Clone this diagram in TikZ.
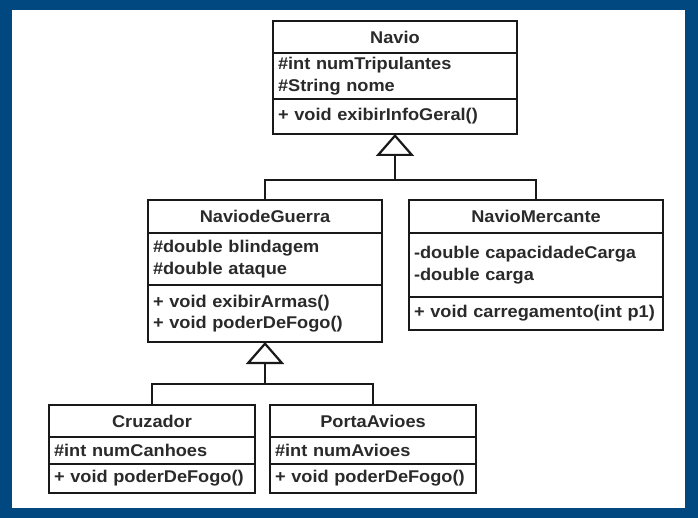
\documentclass[tikz,border=0pt]{standalone}
\usepackage{fontspec}
\setmainfont{Liberation Sans}[FakeStretch=1.07]
\usetikzlibrary{positioning,arrows.meta}
\definecolor{moldura}{RGB}{2,72,128}
\definecolor{tinta}{RGB}{42,42,42}

\begin{document}
\begin{tikzpicture}[x=1pt, y=-1pt,
    % Estilos das classes
    classe/.style={
        draw=black!90, line width=2.2pt, inner xsep=5pt, inner ysep=2pt,
        outer sep=0pt, text width=#1, text=tinta,
        font=\fontsize{17}{21.5}\selectfont\bfseries
    },
    titulo/.style={classe=#1, align=center},
    campos/.style={classe=#1, align=left},
    heranca/.style={draw=black!90, line width=2.2pt},
    ponta/.style={-{Triangle[open, length=22pt, width=38pt]}}
]

% =============================================
% MOLDURA
% =============================================
\fill[moldura] (0,0) rectangle (698,518);
\fill[white] (12,10) rectangle (685,508);

% =============================================
% CLASSES
% =============================================

% Navio (topo)
\node[titulo=234pt, minimum height=32pt, anchor=north] (navio) at (395,21) {Navio};
\node[campos=234pt, minimum height=46pt, below=0pt of navio] (navio-at)
    {\#int numTripulantes\\\#String nome};
\node[campos=234pt, minimum height=35pt, below=0pt of navio-at] (navio-op)
    {+ void exibirInfoGeral()};

% NaviodeGuerra (esquerda)
\node[titulo=224pt, minimum height=33pt, anchor=north] (guerra) at (265,200) {NaviodeGuerra};
\node[campos=224pt, minimum height=52pt, below=0pt of guerra] (guerra-at)
    {\#double blindagem\\\#double ataque};
\node[campos=224pt, minimum height=57pt, below=0pt of guerra-at] (guerra-op)
    {+ void exibirArmas()\\+ void poderDeFogo()};

% NavioMercante (direita)
\node[titulo=244pt, minimum height=33pt, anchor=north] (mercante) at (536,200) {NavioMercante};
\node[campos=244pt, minimum height=64pt, below=0pt of mercante] (mercante-at)
    {-double capacidadeCarga\\-double carga};
\node[campos=244pt, minimum height=33pt, below=0pt of mercante-at] (mercante-op)
    {+ void carregamento(int p1)};

% Cruzador (baixo, esquerda)
\node[titulo=196pt, minimum height=32pt, anchor=north] (cruzador) at (152,405) {Cruzador};
\node[campos=196pt, minimum height=27pt, below=0pt of cruzador] (cruzador-at)
    {\#int numCanhoes};
\node[campos=196pt, minimum height=29pt, below=0pt of cruzador-at] (cruzador-op)
    {+ void poderDeFogo()};

% PortaAvioes (baixo, centro)
\node[titulo=196pt, minimum height=32pt, anchor=north] (porta) at (373,405) {PortaAvioes};
\node[campos=196pt, minimum height=27pt, below=0pt of porta] (porta-at)
    {\#int numAvioes};
\node[campos=196pt, minimum height=29pt, below=0pt of porta-at] (porta-op)
    {+ void poderDeFogo()};

% =============================================
% HERANCA
% =============================================
\coordinate (juncaoA) at (395,180);
\coordinate (juncaoB) at (265,384);

% NaviodeGuerra e NavioMercante -> Navio
\draw[heranca] (guerra.north) |- (juncaoA) -| (mercante.north);
\draw[heranca, ponta] (juncaoA) -- (navio-op.south);

% Cruzador e PortaAvioes -> NaviodeGuerra
\draw[heranca] (cruzador.north) |- (juncaoB) -| (porta.north);
\draw[heranca, ponta] (juncaoB) -- (guerra-op.south);

\end{tikzpicture}
\end{document}
